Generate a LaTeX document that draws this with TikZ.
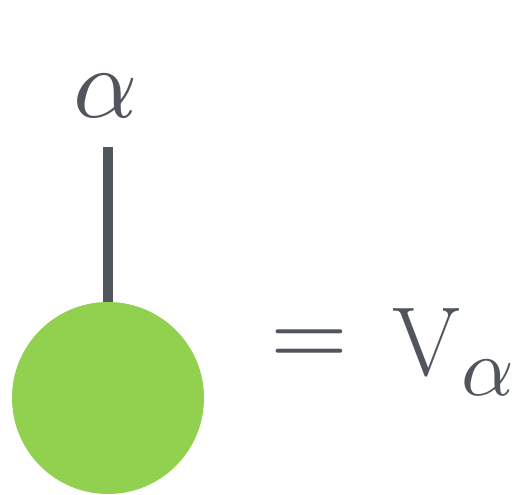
\documentclass[tikz,border=0pt]{standalone}
\usepackage{unicode-math}
\setmathfont{Latin Modern Math}
\definecolor{inkgray}{HTML}{50555E}
\definecolor{leafgreen}{HTML}{92D050}
\begin{document}
\begin{tikzpicture}[x=1pt,y=-1pt,
  lbl/.style={inner sep=0pt,outer sep=0pt,text=inkgray,anchor=base}]
\useasboundingbox (0,0) rectangle (515,495);
\coordinate (top) at (108,147);
\node[circle,fill=leafgreen,minimum size=192pt,inner sep=0pt] (v) at (108,398) {};
\draw[inkgray,line width=10pt] (top) -- (v.north);
\node[lbl] (a) at (106,118) {\fontsize{100}{100}\selectfont$\alpha$};
\node[lbl] (eq) at (309,366) {\fontsize{100}{100}\selectfont$=$};
\node[lbl] (V) at (426,375) {\fontsize{98}{98}\selectfont$\mathrm{V}$};
\node[lbl] (s) at (488,395) {\fontsize{82}{82}\selectfont$\alpha$};
\end{tikzpicture}
\end{document}
